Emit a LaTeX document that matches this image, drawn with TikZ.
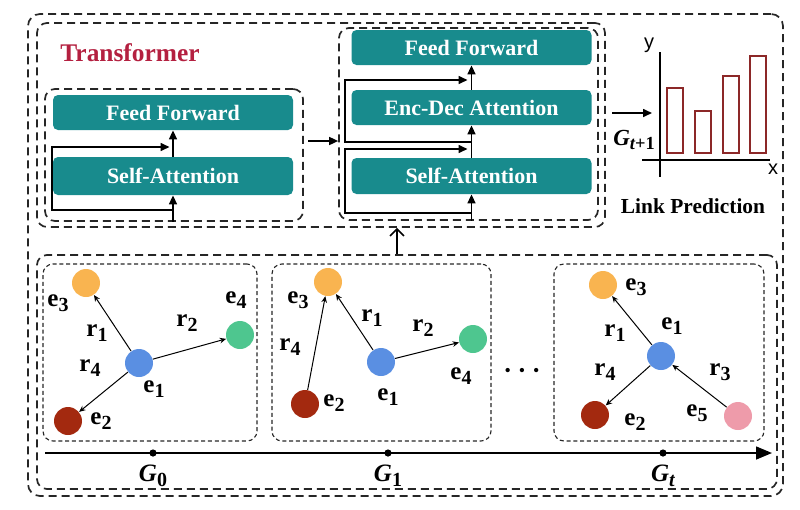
\documentclass[tikz,border=0pt]{standalone}
\usepackage{fontspec}
\setmainfont{Liberation Serif}
\setsansfont{Liberation Sans}
\usetikzlibrary{arrows.meta,positioning,fit,calc}

\definecolor{blockteal}{RGB}{24,139,141}
\definecolor{tfred}{RGB}{180,32,64}
\definecolor{barred}{RGB}{140,40,40}
\definecolor{entorange}{RGB}{249,180,80}
\definecolor{entblue}{RGB}{90,143,226}
\definecolor{entgreen}{RGB}{78,198,143}
\definecolor{entred}{RGB}{163,41,15}
\definecolor{entpink}{RGB}{238,155,170}

\newcommand{\lsub}[1]{\raisebox{-0.45ex}{\scalebox{0.8}{#1}}}

\begin{document}
\begin{tikzpicture}[
    x=0.5pt, y=-0.5pt,
    block/.style={fill=blockteal, text=white, rounded corners=2.5pt, inner sep=0pt,
        font=\fontsize{11}{13}\selectfont\bfseries, minimum width=120pt, minimum height=17.5pt},
    group/.style={draw=black!85, line width=0.85pt, dash pattern=on 4pt off 2.5pt, rounded corners=5pt},
    snapbox/.style={draw=black!85, line width=0.55pt, dash pattern=on 2pt off 1.4pt, rounded corners=5pt},
    arrow/.style={-{Triangle[length=4.5pt,width=4pt]}, line width=0.8pt},
    ent/.style={circle, minimum size=14pt, inner sep=0pt},
    rel/.style={-{Stealth[length=3.2pt,width=2.8pt]}, line width=0.5pt},
    lbl/.style={font=\fontsize{12.5}{14}\selectfont\bfseries, inner sep=0pt},
    gname/.style={font=\fontsize{12.5}{14}\selectfont\bfseries\itshape, inner sep=0pt},
    tdot/.style={circle, fill=black, minimum size=3.6pt, inner sep=0pt},
    bar/.style={draw=barred, line width=0.7pt}
]
\useasboundingbox (0,0) rectangle (800,510);

% frames
\node[group, rounded corners=6pt, minimum width=377.5pt, minimum height=241pt] (outer) at (405.5,255) {};
\node[group, minimum width=284pt, minimum height=102pt] (tfbox) at (321,125) {};
\node[group, minimum width=370pt, minimum height=117pt] (graphs) at (407,372) {};

\node[font=\fontsize{12.7}{14}\selectfont\bfseries, text=tfred] (tflabel) at (130,53) {Transformer};

% encoder
\node[group, minimum width=129pt, minimum height=66pt] (encgrp) at (174,155) {};
\node[block] (eff) at (173,112.5) {Feed Forward};
\node[block, minimum height=19pt] (esa) at (173,176) {Self-Attention};

\coordinate (eres) at (173,210);
\coordinate (eresend) at (169.5,147);
\draw[arrow] (encgrp.south -| esa) -- (esa.south);
\draw[arrow] (esa.north) -- (eff.south);
\draw[arrow] (eres) -- ++(-121,0) |- (eresend);

% decoder
\node[group, minimum width=129.5pt, minimum height=96pt] (decgrp) at (468.5,124) {};
\node[block] (dff) at (471.5,47.5) {Feed Forward};
\node[block] (ded) at (471.5,107.5) {Enc-Dec Attention};
\node[block, minimum height=18pt] (dsa) at (471.5,176) {Self-Attention};

\draw[arrow] (decgrp.south -| dsa) -- (dsa.south);
\draw[arrow] (dsa.north) -- (ded.south);
\draw[arrow] (ded.north) -- (dff.south);

\coordinate (dres1) at (471.5,213);
\coordinate (dres1end) at (467.5,149);
\coordinate (dres2) at (471.5,142);
\coordinate (dres2end) at (467.5,80);
\draw[arrow] (dres1) -- ++(-126.5,0) |- (dres1end);
\draw[arrow] (dres2) -- ++(-126.5,0) |- (dres2end);

\coordinate (e2d) at (308,141);
\draw[arrow] (e2d) -- (e2d -| decgrp.west);

% link prediction
\coordinate (predin) at (612,113);
\coordinate (predout) at (652,113);
\draw[arrow] (predin) -- (predout);
\node[gname, font=\fontsize{11.5}{12}\selectfont\bfseries\itshape] (gnext) at (634,140) {G\lsub{t\upshape +1}};

\coordinate (yaxtop) at (660,52);
\coordinate (yaxbot) at (660,177);
\coordinate (xaxl) at (642,160);
\coordinate (xaxr) at (770,160);
\draw[line width=0.6pt] (yaxtop) -- (yaxbot);
\draw[line width=0.6pt] (xaxl) -- (xaxr);
\node[font=\sffamily\fontsize{10}{11}\selectfont] (ylab) at (649,45) {y};
\node[font=\sffamily\fontsize{10}{11}\selectfont] (xlab) at (773,169) {x};
\foreach \bx/\btop in {675/88, 703/111, 731/76, 758/56}
    \draw[bar] (\bx-8,\btop) rectangle (\bx+8,153);
\node[font=\fontsize{10.7}{12}\selectfont\bfseries] (linkpred) at (693,206) {Link Prediction};

\coordinate (upx) at (397,0);
\draw[-{Straight Barb[length=3.5pt,width=7pt]}, line width=0.8pt] (graphs.north -| upx) -- (tfbox.south -| upx);

% snapshots
\node[snapbox, minimum width=107pt, minimum height=88.5pt] (snap0) at (150,352.5) {};
\node[snapbox, minimum width=109.5pt, minimum height=88.5pt] (snap1) at (381.5,352.5) {};
\node[snapbox, minimum width=105pt, minimum height=88.5pt] (snapt) at (659,352.5) {};

% G_0
\node[ent, fill=entblue] (a1) at (139,363) {};
\node[ent, fill=entred] (a2) at (68,421) {};
\node[ent, fill=entorange] (a3) at (86,283) {};
\node[ent, fill=entgreen] (a4) at (240,335) {};
\draw[rel] (a1) -- (a3);
\draw[rel] (a1) -- (a4);
\draw[rel] (a1) -- (a2);
\node[lbl] at (58,303) {e\lsub{3}};
\node[lbl] at (97,333) {r\lsub{1}};
\node[lbl] at (187,323) {r\lsub{2}};
\node[lbl] at (236,300) {e\lsub{4}};
\node[lbl] at (90,368) {r\lsub{4}};
\node[lbl] at (154,389) {e\lsub{1}};
\node[lbl] at (101,421) {e\lsub{2}};

% G_1
\node[ent, fill=entblue] (b1) at (381,362) {};
\node[ent, fill=entred] (b2) at (305,404) {};
\node[ent, fill=entorange] (b3) at (328,282) {};
\node[ent, fill=entgreen] (b4) at (473,339) {};
\draw[rel] (b2) -- (b3);
\draw[rel] (b1) -- (b3);
\draw[rel] (b1) -- (b4);
\node[lbl] at (298,300) {e\lsub{3}};
\node[lbl] at (290,347) {r\lsub{4}};
\node[lbl] at (372,318) {r\lsub{1}};
\node[lbl] at (423,328) {r\lsub{2}};
\node[lbl] at (461,376) {e\lsub{4}};
\node[lbl] at (388,397) {e\lsub{1}};
\node[lbl] at (334,403) {e\lsub{2}};

\node[inner sep=0pt, font=\fontsize{9}{9}\selectfont] (dots) at (522,372)
    {\textbullet\hspace{4pt}\textbullet\hspace{4pt}\textbullet};

% G_t
\node[ent, fill=entblue] (c1) at (661,356) {};
\node[ent, fill=entred] (c2) at (595,415) {};
\node[ent, fill=entorange] (c3) at (603,285) {};
\node[ent, fill=entpink] (c5) at (738,416) {};
\draw[rel] (c1) -- (c3);
\draw[rel] (c1) -- (c2);
\draw[rel] (c5) -- (c1);
\node[lbl] at (636,287) {e\lsub{3}};
\node[lbl] at (672,326) {e\lsub{1}};
\node[lbl] at (615,333) {r\lsub{1}};
\node[lbl] at (605,372) {r\lsub{4}};
\node[lbl] at (720,372) {r\lsub{3}};
\node[lbl] at (635,422) {e\lsub{2}};
\node[lbl] at (697,413) {e\lsub{5}};

% time axis
\coordinate (tstart) at (45,453);
\coordinate (tend) at (772,453);
\draw[-{Triangle[length=8pt,width=6.5pt]}, line width=0.75pt] (tstart) -- (tend);
\foreach \gx/\gn/\gl in {153/g0/\upshape 0, 388/g1/\upshape 1, 663/gt/t} {
    \node[tdot] (\gn) at (\gx,453) {};
    \node[gname] at (\gx,476) {G\lsub{\gl}};
}

\end{tikzpicture}
\end{document}
